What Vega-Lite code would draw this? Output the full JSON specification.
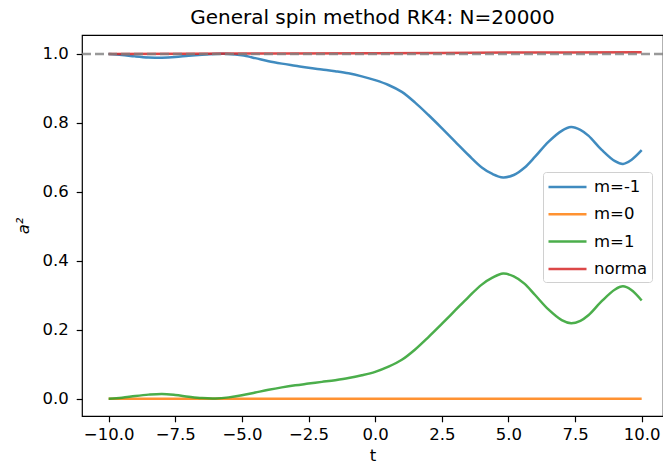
{
  "$schema": "https://vega.github.io/schema/vega-lite/v6.json",
  "autosize": {"type": "none"},
  "width": 581,
  "height": 381,
  "padding": {"left": 82, "top": 35, "right": 0, "bottom": 54},
  "background": "white",
  "config": {
    "font": "DejaVu Sans",
    "view": {"stroke": "black", "strokeWidth": 1.2},
    "axis": {"grid": false, "domain": false, "tickColor": "black", "tickWidth": 1.2, "tickSize": 5.8, "labelColor": "black", "labelFontSize": 16.5, "labelFont": "DejaVu Sans", "titleColor": "black", "titleFontSize": 16.5, "titleFontWeight": "normal", "titleFont": "DejaVu Sans"}
  },
  "title": {"text": "General spin method RK4: N=20000", "fontSize": 20, "fontWeight": "normal", "color": "black", "font": "DejaVu Sans", "anchor": "middle", "offset": 7},
  "data": {"values": [
    {"t": -10, "v": 1.000, "s": "m=-1"},
    {"t": -9.5, "v": 0.997, "s": "m=-1"},
    {"t": -9, "v": 0.993, "s": "m=-1"},
    {"t": -8.5, "v": 0.990, "s": "m=-1"},
    {"t": -8, "v": 0.989, "s": "m=-1"},
    {"t": -7.5, "v": 0.991, "s": "m=-1"},
    {"t": -7, "v": 0.995, "s": "m=-1"},
    {"t": -6.5, "v": 0.998, "s": "m=-1"},
    {"t": -6, "v": 1.000, "s": "m=-1"},
    {"t": -5.5, "v": 1.000, "s": "m=-1"},
    {"t": -5, "v": 0.996, "s": "m=-1"},
    {"t": -4.5, "v": 0.988, "s": "m=-1"},
    {"t": -4, "v": 0.979, "s": "m=-1"},
    {"t": -3.5, "v": 0.972, "s": "m=-1"},
    {"t": -3, "v": 0.966, "s": "m=-1"},
    {"t": -2.5, "v": 0.960, "s": "m=-1"},
    {"t": -2, "v": 0.955, "s": "m=-1"},
    {"t": -1.5, "v": 0.950, "s": "m=-1"},
    {"t": -1, "v": 0.944, "s": "m=-1"},
    {"t": -0.5, "v": 0.935, "s": "m=-1"},
    {"t": 0, "v": 0.924, "s": "m=-1"},
    {"t": 0.5, "v": 0.910, "s": "m=-1"},
    {"t": 1, "v": 0.890, "s": "m=-1"},
    {"t": 1.5, "v": 0.859, "s": "m=-1"},
    {"t": 2, "v": 0.823, "s": "m=-1"},
    {"t": 2.5, "v": 0.785, "s": "m=-1"},
    {"t": 3, "v": 0.746, "s": "m=-1"},
    {"t": 3.5, "v": 0.707, "s": "m=-1"},
    {"t": 4, "v": 0.671, "s": "m=-1"},
    {"t": 4.4, "v": 0.652, "s": "m=-1"},
    {"t": 4.8, "v": 0.642, "s": "m=-1"},
    {"t": 5.2, "v": 0.649, "s": "m=-1"},
    {"t": 5.6, "v": 0.670, "s": "m=-1"},
    {"t": 6, "v": 0.702, "s": "m=-1"},
    {"t": 6.5, "v": 0.745, "s": "m=-1"},
    {"t": 7, "v": 0.777, "s": "m=-1"},
    {"t": 7.35, "v": 0.788, "s": "m=-1"},
    {"t": 7.7, "v": 0.780, "s": "m=-1"},
    {"t": 8, "v": 0.763, "s": "m=-1"},
    {"t": 8.5, "v": 0.722, "s": "m=-1"},
    {"t": 9, "v": 0.689, "s": "m=-1"},
    {"t": 9.3, "v": 0.681, "s": "m=-1"},
    {"t": 9.6, "v": 0.692, "s": "m=-1"},
    {"t": 10, "v": 0.721, "s": "m=-1"},
    {"t": -10, "v": 0.0, "s": "m=0"},
    {"t": 10, "v": 0.0, "s": "m=0"},
    {"t": -10, "v": 0.000, "s": "m=1"},
    {"t": -9.5, "v": 0.003, "s": "m=1"},
    {"t": -9, "v": 0.008, "s": "m=1"},
    {"t": -8.5, "v": 0.012, "s": "m=1"},
    {"t": -8, "v": 0.014, "s": "m=1"},
    {"t": -7.5, "v": 0.011, "s": "m=1"},
    {"t": -7, "v": 0.006, "s": "m=1"},
    {"t": -6.5, "v": 0.002, "s": "m=1"},
    {"t": -6, "v": 0.001, "s": "m=1"},
    {"t": -5.5, "v": 0.004, "s": "m=1"},
    {"t": -5, "v": 0.010, "s": "m=1"},
    {"t": -4.5, "v": 0.018, "s": "m=1"},
    {"t": -4, "v": 0.026, "s": "m=1"},
    {"t": -3.5, "v": 0.033, "s": "m=1"},
    {"t": -3, "v": 0.039, "s": "m=1"},
    {"t": -2.5, "v": 0.044, "s": "m=1"},
    {"t": -2, "v": 0.049, "s": "m=1"},
    {"t": -1.5, "v": 0.054, "s": "m=1"},
    {"t": -1, "v": 0.060, "s": "m=1"},
    {"t": -0.5, "v": 0.068, "s": "m=1"},
    {"t": 0, "v": 0.078, "s": "m=1"},
    {"t": 0.5, "v": 0.093, "s": "m=1"},
    {"t": 1, "v": 0.113, "s": "m=1"},
    {"t": 1.5, "v": 0.143, "s": "m=1"},
    {"t": 2, "v": 0.179, "s": "m=1"},
    {"t": 2.5, "v": 0.217, "s": "m=1"},
    {"t": 3, "v": 0.256, "s": "m=1"},
    {"t": 3.5, "v": 0.295, "s": "m=1"},
    {"t": 4, "v": 0.331, "s": "m=1"},
    {"t": 4.4, "v": 0.351, "s": "m=1"},
    {"t": 4.8, "v": 0.363, "s": "m=1"},
    {"t": 5.2, "v": 0.355, "s": "m=1"},
    {"t": 5.6, "v": 0.334, "s": "m=1"},
    {"t": 6, "v": 0.301, "s": "m=1"},
    {"t": 6.5, "v": 0.259, "s": "m=1"},
    {"t": 7, "v": 0.228, "s": "m=1"},
    {"t": 7.35, "v": 0.219, "s": "m=1"},
    {"t": 7.7, "v": 0.226, "s": "m=1"},
    {"t": 8, "v": 0.242, "s": "m=1"},
    {"t": 8.5, "v": 0.283, "s": "m=1"},
    {"t": 9, "v": 0.317, "s": "m=1"},
    {"t": 9.3, "v": 0.326, "s": "m=1"},
    {"t": 9.6, "v": 0.316, "s": "m=1"},
    {"t": 10, "v": 0.285, "s": "m=1"},
    {"t": -10, "v": 1.000, "s": "norma"},
    {"t": -5, "v": 1.001, "s": "norma"},
    {"t": 0, "v": 1.002, "s": "norma"},
    {"t": 5, "v": 1.004, "s": "norma"},
    {"t": 10, "v": 1.005, "s": "norma"}
  ]},
  "layer": [
    {
      "mark": {"type": "line", "strokeWidth": 2.5, "interpolate": "catmull-rom", "strokeOpacity": 0.85},
      "encoding": {
        "x": {"field": "t", "type": "quantitative", "scale": {"domain": [-11, 10.8], "nice": false, "zero": false}, "axis": {"values": [-10, -7.5, -5, -2.5, 0, 2.5, 5, 7.5, 10], "format": ".1f", "title": "t", "labelPadding": 5, "titlePadding": 4}},
        "y": {"field": "v", "type": "quantitative", "scale": {"domain": [-0.05, 1.055], "nice": false, "zero": false}, "axis": {"values": [0, 0.2, 0.4, 0.6, 0.8, 1.0], "format": ".1f", "title": "a²", "titleFontStyle": "italic", "labelPadding": 8, "titlePadding": 10}},
        "color": {"field": "s", "type": "nominal", "scale": {"domain": ["m=-1", "m=0", "m=1", "norma"], "range": ["#1f77b4", "#ff7f0e", "#2ca02c", "#d62728"]},
          "legend": {"title": null, "orient": "none", "legendX": 461, "legendY": 137, "symbolType": "M-1,0H3", "symbolSize": 361, "symbolStrokeWidth": 2.5, "symbolOpacity": 0.85, "labelFontSize": 16.5, "labelColor": "black", "labelFont": "DejaVu Sans", "labelOffset": 25, "rowPadding": 7.3, "padding": 4, "strokeColor": "#d0d0d0", "fillColor": "rgba(255,255,255,0.8)", "cornerRadius": 3}}
      }
    },
    {
      "data": {"values": [{}]},
      "mark": {"type": "rule", "color": "gray", "strokeDash": [9, 4], "strokeWidth": 2.5, "opacity": 0.8},
      "encoding": {"y": {"datum": 1}}
    }
  ]
}
